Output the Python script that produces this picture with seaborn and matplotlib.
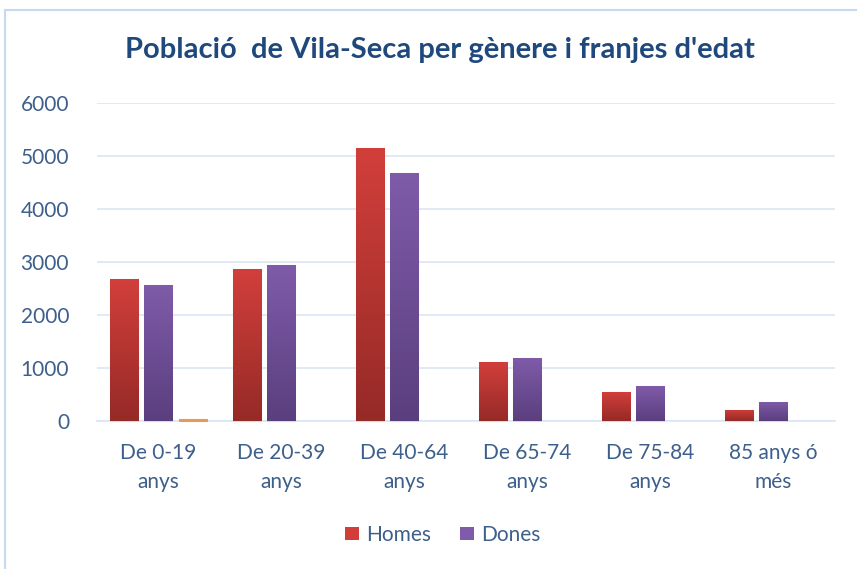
import numpy as np
import pandas as pd
import matplotlib.pyplot as plt
import seaborn as sns
from matplotlib.colors import LinearSegmentedColormap
from matplotlib.patches import Patch, Rectangle

# Dades
franges = ["De 0-19\nanys", "De 20-39\nanys", "De 40-64\nanys",
           "De 65-74\nanys", "De 75-84\nanys", "85 anys ó\nmés"]
homes = [2680, 2870, 5150, 1110, 550, 210]
dones = [2570, 2940, 4680, 1190, 660, 360]
serie3 = [30, 0, 0, 0, 0, 0]

series = ["Homes", "Dones", "Sèrie 3"]
df = pd.DataFrame({
    "franja": franges * 3,
    "valor": homes + dones + serie3,
    "serie": ["Homes"] * 6 + ["Dones"] * 6 + ["Sèrie 3"] * 6,
})

# colors (dalt, baix) per fer el degradat
grad = {
    "Homes": ("#D23F3B", "#962A27"),
    "Dones": ("#7F5BA9", "#5A3F7E"),
    "Sèrie 3": ("#F79646", "#F79646"),
}
edges = {"Homes": "#EBD5D5", "Dones": "#DDD5E8", "Sèrie 3": "#F79646"}
text_col = "#3D5F8C"
grid_col = "#DCE6F2"

sns.set_style("white")
plt.rcParams['font.family'] = ['Lato', 'DejaVu Sans']

fig = plt.figure(figsize=(8.57, 5.69), dpi=100)
ax = fig.add_axes([0.113, 0.26, 0.861, 0.559])

sns.barplot(data=df, x="franja", y="valor", hue="serie", order=franges,
            hue_order=series, palette=[grad[s][0] for s in series],
            width=0.84, gap=0.18, legend=False, ax=ax)

ax.set_ylim(0, 6000)

# degradat vertical dins de cada barra
bars = [p for p in ax.patches if isinstance(p, Rectangle)]
for i, p in enumerate(bars):
    s = series[i // len(franges)]
    h = p.get_height()
    if h <= 0:
        p.set_visible(False)
        continue
    p.set_edgecolor(edges[s])
    p.set_linewidth(0.8)
    p.set_zorder(3)
    p.set_clip_on(False)
    if s == "Sèrie 3":
        continue
    cmap = LinearSegmentedColormap.from_list(s, [grad[s][1], grad[s][0]])
    x0, w = p.get_x(), p.get_width()
    img = ax.imshow(np.linspace(0, 1, 100).reshape(-1, 1), cmap=cmap,
                    extent=(x0, x0 + w, 0, h), origin="lower",
                    aspect="auto", zorder=3.1)
    img.set_clip_path(p)

ax.set_xlim(-0.5, len(franges) - 0.5)
ax.set_ylim(0, 6000)
ax.set_yticks(range(0, 6001, 1000))

ax.yaxis.grid(True, color=grid_col, linewidth=1.2)
ax.set_axisbelow(True)
for sp in ["top", "right", "left"]:
    ax.spines[sp].set_visible(False)
ax.spines["bottom"].set_color(grid_col)
ax.spines["bottom"].set_linewidth(1.2)
ax.spines["bottom"].set_zorder(2)

ax.tick_params(axis="both", colors=text_col, labelsize=15, length=0)
ax.tick_params(axis="y", pad=20)
ax.tick_params(axis="x", pad=16)
for t in ax.get_xticklabels():
    t.set_linespacing(1.55)
ax.set_xlabel("")
ax.set_ylabel("")

fig.suptitle("Població  de Vila-Seca per gènere i franjes d'edat",
             x=0.513, y=0.935, fontsize=21, fontweight="bold", color="#1F497D")

handles = [Patch(facecolor=grad[s][0], edgecolor="none") for s in ["Homes", "Dones"]]
fig.legend(handles, ["Homes", "Dones"], loc="center", bbox_to_anchor=(0.517, 0.06),
           ncol=2, frameon=False, fontsize=15, labelcolor=text_col,
           handlelength=0.65, handleheight=0.65, handletextpad=0.35, columnspacing=1.4)

# vora del gràfic
fig.patches.append(Rectangle((0.006, -0.05), 1.1, 1.032, transform=fig.transFigure,
                             fill=False, edgecolor="#C6D9F1", linewidth=1.5))

fig.savefig("out.png", dpi=100)
